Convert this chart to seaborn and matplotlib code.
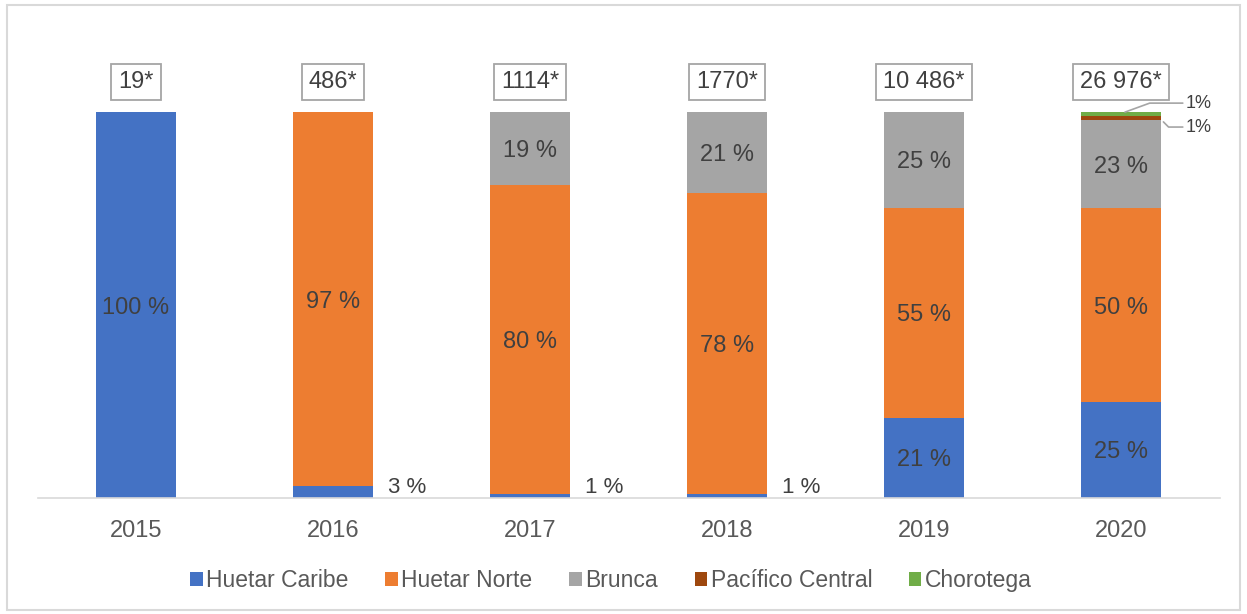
import numpy as np
import pandas as pd
import matplotlib
matplotlib.use("Agg")
import matplotlib.pyplot as plt
import seaborn as sns
from matplotlib.patches import Rectangle

## data
years = ["2015", "2016", "2017", "2018", "2019", "2020"]
totals = ["19*", "486*", "1114*", "1770*", "10 486*", "26 976*"]
huetar_caribe = [100, 3, 1, 1, 21, 25]
huetar_norte = [0, 97, 80, 78, 55, 50]
brunca = [0, 0, 19, 21, 25, 23]
pacifico_central = [0, 0, 0, 0, 0, 1]
chorotega = [0, 0, 0, 0, 0, 1]

series = ["Huetar Caribe", "Huetar Norte", "Brunca", "Pacífico Central", "Chorotega"]
colors = ["#4472C4", "#ED7D31", "#A5A5A5", "#9E480E", "#70AD47"]

df = pd.DataFrame({"year": years, "Huetar Caribe": huetar_caribe, "Huetar Norte": huetar_norte,
                   "Brunca": brunca, "Pacífico Central": pacifico_central, "Chorotega": chorotega})
row_sum = df[series].sum(axis=1)

sns.set_style("white")
plt.rcParams['font.family'] = ['Liberation Sans', 'DejaVu Sans']

fig = plt.figure(figsize=(12.47, 6.14), dpi=100)
ax = fig.add_axes([0.0301, 0.1889, 0.9479, 0.6287])

txt_col = "#404040"
bottom = np.zeros(len(years))
for name, col in zip(series, colors):
    h = (df[name] / row_sum * 100).values
    sns.barplot(x=df["year"], y=h, bottom=bottom, color=col, saturation=1, width=0.405,
                ax=ax, label=name, linewidth=0)
    for i, v in enumerate(df[name]):
        if v == 0:
            continue
        if v >= 5:
            ax.text(i, bottom[i] + h[i] / 2, f"{v} %", ha="center", va="center_baseline",
                    fontsize=17, color=txt_col)
        elif name == "Huetar Caribe":
            ax.text(i + 0.375, 2.8, f"{v} %", ha="center", va="center", fontsize=16, color=txt_col)
    bottom = bottom + h

# leader labels for the 2020 small segments
ax.annotate("1%", xy=(5.0, 99.6), xytext=(5.33, 102.3), fontsize=13, color=txt_col, va="center",
            annotation_clip=False,
            arrowprops=dict(arrowstyle="-", color="#A5A5A5", lw=1.2, shrinkA=0, shrinkB=3,
                            connectionstyle="angle,angleA=0,angleB=20,rad=0"))
ax.annotate("1%", xy=(5.2, 98.2), xytext=(5.33, 96.1), fontsize=13, color=txt_col, va="center",
            annotation_clip=False,
            arrowprops=dict(arrowstyle="-", color="#A5A5A5", lw=1.2, shrinkA=0, shrinkB=3,
                            connectionstyle="angle,angleA=0,angleB=-45,rad=0"))

# totals boxes
for i, t in enumerate(totals):
    ax.text(i, 107.8, t, ha="center", va="center", fontsize=17, color=txt_col, clip_on=False,
            bbox=dict(boxstyle="square,pad=0.3", facecolor="white", edgecolor="#A5A5A5", lw=1.3))

ax.set_xlim(-0.5, 5.5)
ax.set_ylim(0, 100)
ax.set_xlabel("")
ax.set_ylabel("")
ax.set_yticks([])
ax.tick_params(axis="x", length=0, labelsize=17, labelcolor="#595959", pad=16)
for s in ["top", "left", "right"]:
    ax.spines[s].set_visible(False)
ax.spines["bottom"].set_color("#D9D9D9")
ax.spines["bottom"].set_linewidth(1.2)

handles, labels = ax.get_legend_handles_labels()
ax.legend(handles, labels, loc="center", bbox_to_anchor=(0.49, 0.055), bbox_transform=fig.transFigure,
          ncol=5, frameon=False, fontsize=16.5, handlelength=0.55, handleheight=0.55, handletextpad=0.15,
          columnspacing=1.6, labelcolor="#595959")

fig.patches.append(Rectangle((0.006, 0.006), 0.988, 0.986, transform=fig.transFigure,
                             fill=False, edgecolor="#D9D9D9", lw=1.5))

fig.savefig("out.png", dpi=100)
